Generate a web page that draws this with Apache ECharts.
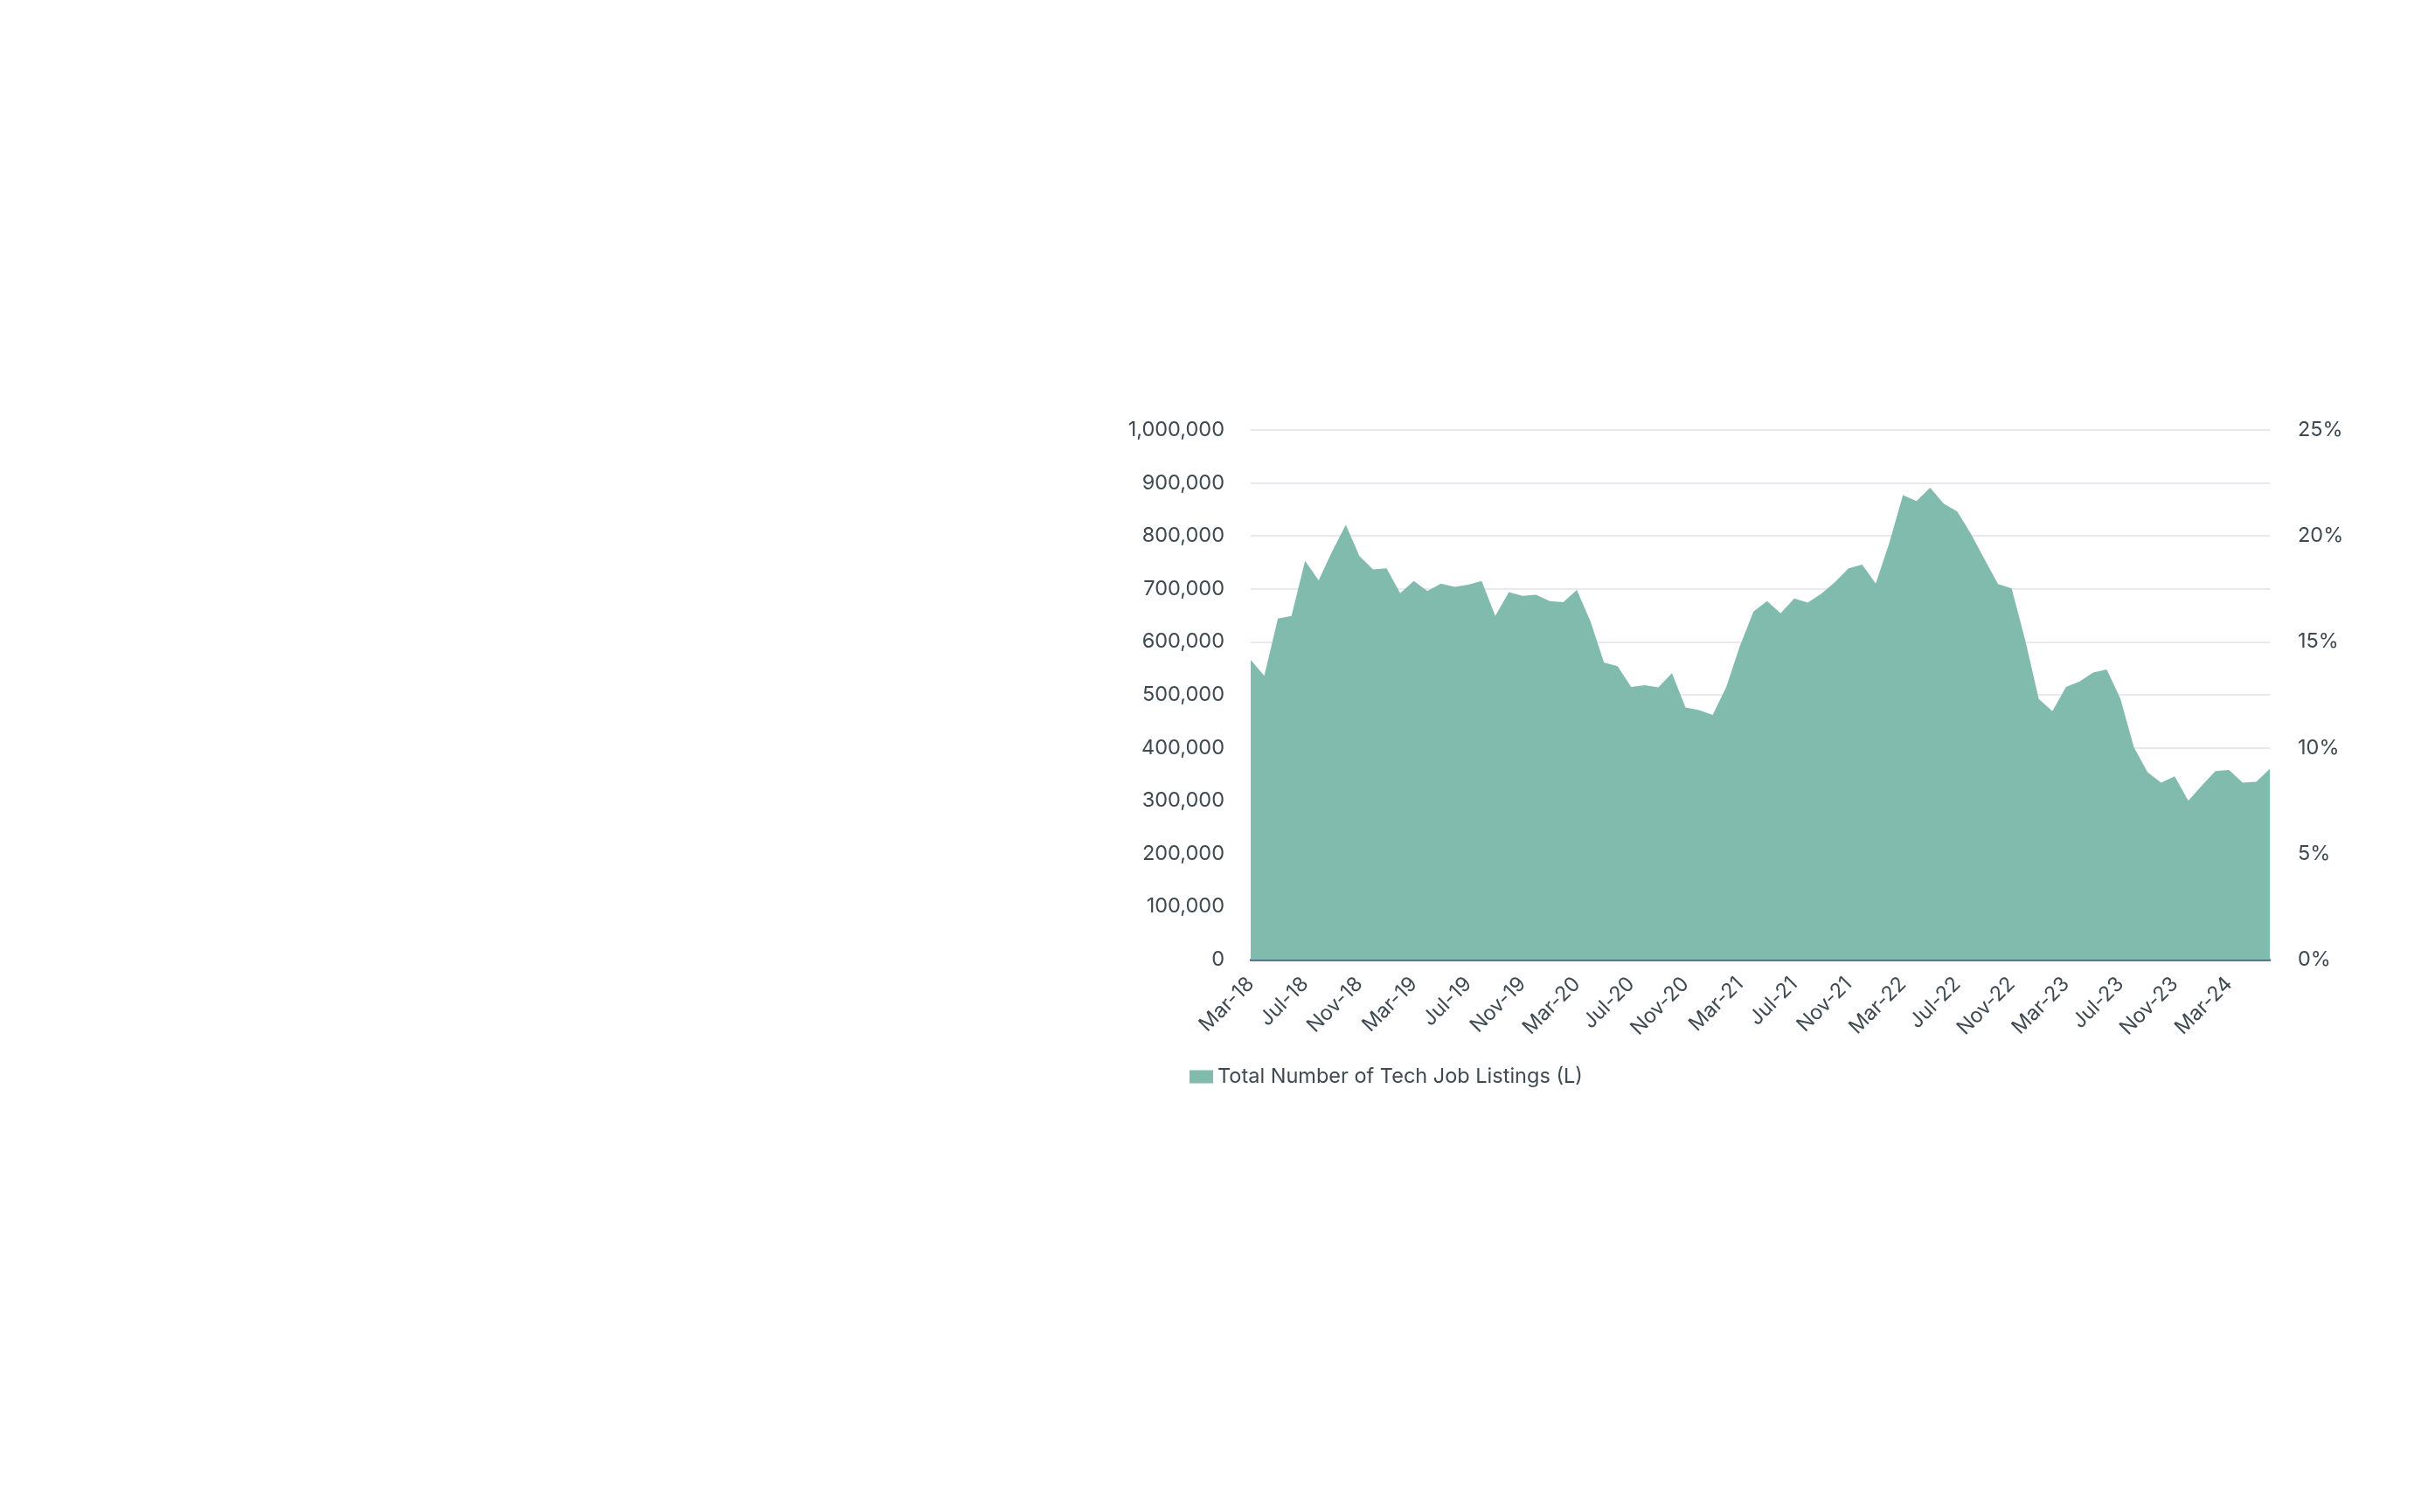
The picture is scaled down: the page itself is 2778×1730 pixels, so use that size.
<!DOCTYPE html>
<html>
<head>
<meta charset="utf-8">
<script src="https://cdn.jsdelivr.net/npm/echarts@6/dist/echarts.min.js"></script>
<style>
  html, body { margin: 0; padding: 0; background: #fff; }
  #chart { width: 2778px; height: 1730px; }
</style>
</head>
<body>
<div id="chart"></div>
<script>
// months Mar-18 .. Jun-24
const months = [
  'Mar-18','Apr-18','May-18','Jun-18','Jul-18','Aug-18','Sep-18','Oct-18','Nov-18','Dec-18',
  'Jan-19','Feb-19','Mar-19','Apr-19','May-19','Jun-19','Jul-19','Aug-19','Sep-19','Oct-19','Nov-19','Dec-19',
  'Jan-20','Feb-20','Mar-20','Apr-20','May-20','Jun-20','Jul-20','Aug-20','Sep-20','Oct-20','Nov-20','Dec-20',
  'Jan-21','Feb-21','Mar-21','Apr-21','May-21','Jun-21','Jul-21','Aug-21','Sep-21','Oct-21','Nov-21','Dec-21',
  'Jan-22','Feb-22','Mar-22','Apr-22','May-22','Jun-22','Jul-22','Aug-22','Sep-22','Oct-22','Nov-22','Dec-22',
  'Jan-23','Feb-23','Mar-23','Apr-23','May-23','Jun-23','Jul-23','Aug-23','Sep-23','Oct-23','Nov-23','Dec-23',
  'Jan-24','Feb-24','Mar-24','Apr-24','May-24','Jun-24'
];

// total tech job listings (thousands)
const listingsK = [
  566, 536, 644, 649, 753, 716, 771, 821, 762, 737,
  739, 692, 715, 696, 710, 704, 708, 715, 649, 694, 687, 689,
  677, 675, 698, 639, 561, 554, 515, 518, 514, 541, 476, 471,
  462, 515, 592, 657, 677, 654, 682, 674, 691, 713, 739, 746,
  710, 787, 877, 866, 891, 861, 846, 804, 756, 709, 701, 603,
  492, 469, 515, 525, 542, 548, 493, 401, 354, 334, 346, 300,
  329, 356, 358, 334, 336, 360
];

const seriesName = 'Total Number of Tech Job Listings (L)';
const leftMax = 1000000, leftStep = 100000;
const rightMax = 0.25, rightStep = 0.05;

const textColor = '#3e4a50';
const fontFamily = 'Inter, "Noto Sans", sans-serif';
const fontSize = 23.5;

const chart = echarts.init(document.getElementById('chart'));

chart.setOption({
  animation: false,
  backgroundColor: '#ffffff',
  textStyle: { fontFamily: fontFamily },
  grid: {
    left: 1431,
    top: 492,
    width: 1166,
    height: 606
  },
  legend: {
    left: 1356,
    top: 1215,
    icon: 'rect',
    itemWidth: 27,
    itemHeight: 15,
    textStyle: { color: textColor, fontSize: fontSize, fontFamily: fontFamily },
    data: [seriesName]
  },
  xAxis: {
    type: 'category',
    data: months,
    boundaryGap: false,
    axisLine: { show: true, lineStyle: { color: '#4a5f7e', width: 2.5 } },
    axisTick: { show: false },
    axisLabel: {
      interval: 3,
      rotate: 45,
      margin: 24,
      color: textColor,
      fontSize: fontSize,
      fontFamily: fontFamily
    },
    splitLine: { show: false }
  },
  yAxis: [
    {
      type: 'value',
      min: 0,
      max: leftMax,
      interval: leftStep,
      axisLine: { show: false },
      axisTick: { show: false },
      axisLabel: {
        margin: 30,
        color: textColor,
        fontSize: fontSize,
        fontFamily: fontFamily,
        formatter: v => v.toLocaleString('en-US')
      },
      splitLine: { lineStyle: { color: '#e7e9ec', width: 2 } }
    },
    {
      type: 'value',
      min: 0,
      max: rightMax,
      interval: rightStep,
      position: 'right',
      axisLine: { show: false },
      axisTick: { show: false },
      axisLabel: {
        margin: 32,
        color: textColor,
        fontSize: fontSize,
        fontFamily: fontFamily,
        formatter: v => Math.round(v * 100) + '%'
      },
      splitLine: { show: false }
    }
  ],
  series: [
    {
      name: seriesName,
      type: 'line',
      yAxisIndex: 0,
      data: listingsK.map(v => v * 1000),
      symbol: 'none',
      lineStyle: { width: 0, color: '#80bbad' },
      itemStyle: { color: '#80bbad' },
      areaStyle: { color: '#80bbad', opacity: 1 },
      z: 1
    }
  ]
});
</script>
</body>
</html>
